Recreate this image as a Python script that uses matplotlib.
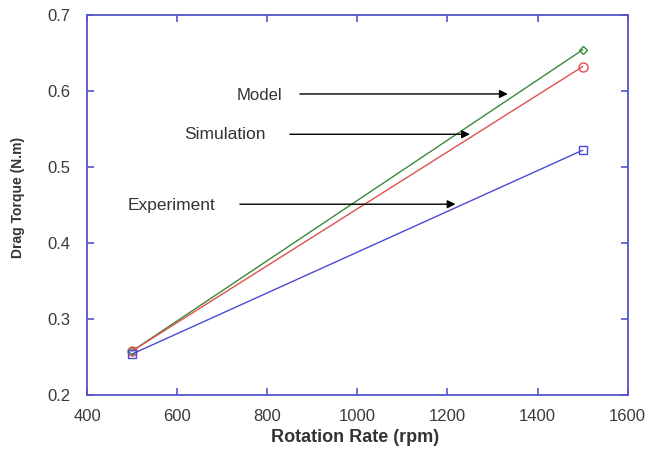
import matplotlib
matplotlib.use("Agg")
import matplotlib.pyplot as plt

plt.rcParams["font.family"] = ["Liberation Sans", "DejaVu Sans"]

# data
rpm = [500, 1500]
model = [0.258, 0.654]
simulation = [0.258, 0.632]
experiment = [0.254, 0.522]

spine_color = "#5555cc"
text_color = "#333333"

fig = plt.figure(figsize=(6.6, 4.51), dpi=100)
ax = fig.add_axes([0.132, 0.124, 0.819, 0.843])

ax.plot(rpm, model, color="#3a8a3a", lw=1.0, marker="D", ms=4.5, mfc="none")
ax.plot(rpm, simulation, color="#e05050", lw=1.0, marker="o", ms=6.5, mfc="none")
ax.plot(rpm, experiment, color="#4a4ad8", lw=1.0, marker="s", ms=6, mfc="none")

ax.set_xlim(400, 1600)
ax.set_ylim(0.2, 0.7)
ax.set_xticks([400, 600, 800, 1000, 1200, 1400, 1600])
ax.set_yticks([0.2, 0.3, 0.4, 0.5, 0.6, 0.7])
ax.set_yticklabels(["0.2", "0.3", "0.4", "0.5", "0.6", "0.7"])

for s in ax.spines.values():
    s.set_color(spine_color)
    s.set_linewidth(1.3)
ax.tick_params(direction="in", length=5, width=1.2, color=spine_color,
               top=True, right=True, labelsize=12, labelcolor="#3a3a3a")
ax.tick_params(axis="x", pad=10)
ax.tick_params(axis="y", pad=12)

ax.set_xlabel("Rotation Rate (rpm)", fontsize=13, fontweight="bold",
              color=text_color)
ax.xaxis.set_label_coords(0.495, -0.09)
ax.set_ylabel("Drag Torque (N.m)", fontsize=10, fontweight="bold",
              color=text_color)
ax.yaxis.set_label_coords(-0.115, 0.52)

arrow = dict(arrowstyle="-|>", color="black", lw=1.0, mutation_scale=12)
ax.annotate("", xy=(1340, 0.596), xytext=(866, 0.596), arrowprops=arrow)
ax.annotate("", xy=(1256, 0.543), xytext=(844, 0.543), arrowprops=arrow)
ax.annotate("", xy=(1224, 0.451), xytext=(733, 0.451), arrowprops=arrow)

ax.text(833, 0.594, "Model", ha="right", va="center", fontsize=12, color=text_color)
ax.text(796, 0.543, "Simulation", ha="right", va="center", fontsize=12.5, color=text_color)
ax.text(491, 0.449, "Experiment", ha="left", va="center", fontsize=12.5, color=text_color)

fig.savefig("out.png", dpi=100)
